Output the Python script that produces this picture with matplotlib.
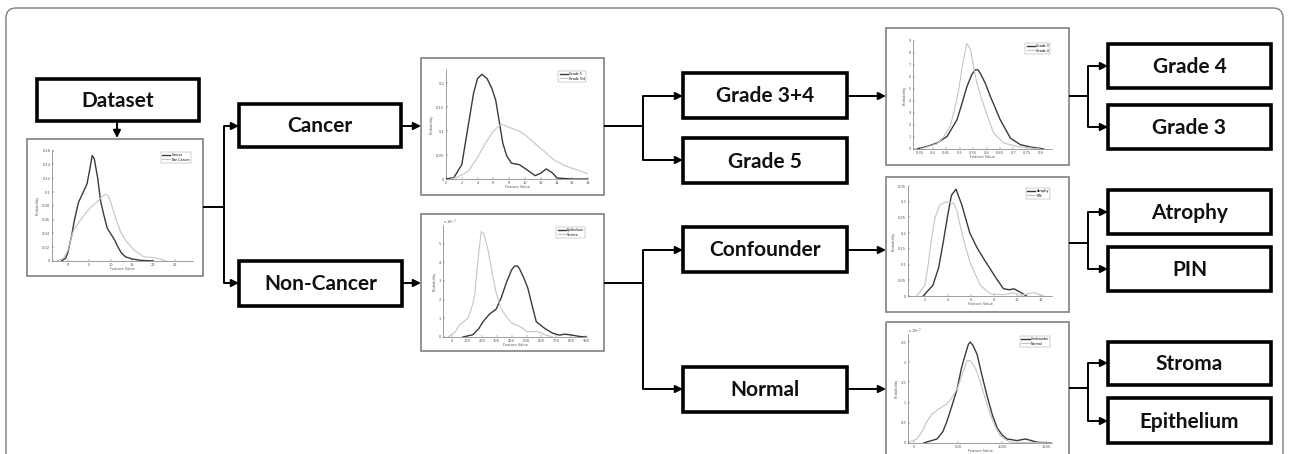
import matplotlib
matplotlib.use("Agg")
import matplotlib.pyplot as plt
from matplotlib.patches import Rectangle, FancyBboxPatch
from matplotlib.ticker import ScalarFormatter

W, H = 1289, 454

# ---------------- data -----------------
# Plot 1: Cancer vs Non-Cancer
p1_cancer_x = [-1.5, -0.5, 0, 1, 1.5, 2.5, 3.4, 4.5, 5.2, 5.7, 6.2, 7.0, 7.7, 8.5, 9.2, 10, 11, 11.6, 12.5, 13.5, 15, 17, 20]
p1_cancer_y = [0, 0.004, 0.012, 0.04, 0.058, 0.085, 0.097, 0.112, 0.135, 0.153, 0.148, 0.12, 0.086, 0.065, 0.048, 0.04, 0.03, 0.022, 0.012, 0.006, 0.003, 0.001, 0]
p1_non_x = [-2.5, -1, 0, 1, 1.4, 2.5, 3.5, 4.5, 5.7, 6.9, 7.8, 8.8, 9.4, 10, 11, 12.3, 13.5, 15.5, 17.8, 20.2, 21.5, 23]
p1_non_y = [0, 0.004, 0.015, 0.038, 0.045, 0.055, 0.064, 0.072, 0.08, 0.086, 0.092, 0.097, 0.095, 0.086, 0.066, 0.043, 0.03, 0.016, 0.006, 0.005, 0.003, 0]

# Plot 2: Grade 5 vs Grade 3/4
p2_g5_x = [0, 1, 2, 2.8, 3.5, 4.0, 4.55, 5.2, 5.8, 6.3, 6.8, 7.2, 7.7, 8.3, 9.3, 10.2, 11.3, 12.0, 12.7, 13.4, 14.1, 15, 16, 18]
p2_g5_y = [0, 0.003, 0.03, 0.11, 0.18, 0.21, 0.219, 0.21, 0.19, 0.165, 0.115, 0.075, 0.048, 0.033, 0.03, 0.02, 0.007, 0.012, 0.021, 0.014, 0.002, 0.001, 0, 0]
p2_g34_x = [0.6, 1.5, 2.8, 4.0, 5.0, 6.0, 7.0, 8.0, 9.3, 10.2, 11, 12.3, 13.7, 15, 15.9, 17, 18]
p2_g34_y = [0, 0.004, 0.016, 0.045, 0.075, 0.1, 0.115, 0.108, 0.1, 0.09, 0.078, 0.06, 0.04, 0.028, 0.023, 0.017, 0.011]

# Plot 3: Epithelium vs Stroma (x1e-3)
p3_epi_x = [74, 140, 180, 208, 252, 297, 330, 364, 400, 420, 440, 453, 480, 509, 540, 565, 620, 676, 721, 754, 790, 855, 900]
p3_epi_y = [0, 0.12, 0.45, 0.82, 1.23, 1.5, 2.1, 2.9, 3.6, 3.8, 3.8, 3.65, 3.2, 2.6, 1.6, 0.82, 0.47, 0.2, 0.1, 0.15, 0.12, 0.03, 0]
p3_str_x = [-27, 20, 51, 107, 130, 152, 175, 196, 215, 241, 270, 297, 330, 364, 400, 431, 453, 480, 498, 530, 565, 600, 620, 676]
p3_str_y = [0, 0.25, 0.65, 1.0, 1.5, 2.2, 4.2, 5.65, 5.5, 4.7, 3.4, 2.35, 1.5, 1.1, 0.75, 0.65, 0.56, 0.45, 0.3, 0.28, 0.3, 0.22, 0.12, 0]

# Plot 4: Grade 3 vs Grade 4
p4_g3_x = [0.341, 0.379, 0.416, 0.453, 0.49, 0.51, 0.527, 0.545, 0.558, 0.568, 0.577, 0.595, 0.614, 0.651, 0.689, 0.726, 0.763, 0.813]
p4_g3_y = [0, 0.22, 0.5, 1.05, 2.44, 3.9, 5.2, 6.2, 6.6, 6.6, 6.3, 5.5, 4.4, 2.44, 0.91, 0.36, 0.17, 0]
p4_g4_x = [0.354, 0.416, 0.44, 0.465, 0.48, 0.496, 0.512, 0.527, 0.54, 0.552, 0.564, 0.58, 0.595, 0.626, 0.664, 0.713, 0.763, 0.8]
p4_g4_y = [0, 0.44, 1.0, 1.9, 3.2, 4.9, 7.2, 8.8, 8.3, 6.8, 5.5, 4.3, 3.3, 1.33, 0.5, 0.22, 0.08, 0]

# Plot 5: Atrophy vs PIN
p5_atr_x = [1.86, 2.7, 3.2, 3.6, 4.0, 4.3, 4.7, 5.2, 5.9, 6.5, 7.07, 8.2, 8.8, 9.3, 9.7, 10.3, 10.8]
p5_atr_y = [0, 0.034, 0.09, 0.172, 0.26, 0.32, 0.34, 0.29, 0.2, 0.155, 0.12, 0.055, 0.023, 0.02, 0.023, 0.011, 0]
p5_pin_x = [1.3, 2.0, 2.3, 2.58, 2.9, 3.3, 3.9, 4.5, 4.8, 5.04, 5.5, 5.9, 6.8, 7.65, 8.8, 9.7, 10.3, 11.4, 12.3]
p5_pin_y = [0, 0.034, 0.1, 0.183, 0.25, 0.29, 0.3, 0.295, 0.27, 0.226, 0.16, 0.108, 0.034, 0.007, 0.004, 0.01, 0.002, 0.011, 0]

# Plot 6: Confounder vs Normal (x1e-3)
p6_con_x = [113, 264, 330, 377, 430, 491, 540, 585, 620, 642, 670, 717, 770, 830, 890, 943, 1000, 1057, 1170, 1264, 1396, 1566]
p6_con_y = [0, 0.1, 0.28, 0.54, 0.9, 1.33, 1.85, 2.2, 2.45, 2.5, 2.42, 2.2, 1.7, 1.17, 0.7, 0.38, 0.2, 0.1, 0.06, 0.1, 0.02, 0]
p6_nor_x = [-75, 38, 100, 151, 210, 264, 320, 377, 430, 491, 550, 604, 642, 700, 755, 810, 868, 925, 981, 1040, 1094, 1566]
p6_nor_y = [0, 0.1, 0.3, 0.54, 0.72, 0.81, 0.89, 0.97, 1.12, 1.33, 1.7, 2.04, 2.04, 1.85, 1.5, 1.1, 0.7, 0.4, 0.18, 0.08, 0.02, 0]

# flowchart labels
box_labels = ["Dataset", "Cancer", "Non-Cancer", "Grade 3+4", "Grade 5", "Confounder",
              "Normal", "Grade 4", "Grade 3", "Atrophy", "PIN", "Stroma", "Epithelium"]

# --------------- figure ----------------
fig = plt.figure(figsize=(W / 100, H / 100), dpi=100)
ax = fig.add_axes([0, 0, 1, 1])
ax.set_xlim(0, W)
ax.set_ylim(H, 0)
ax.axis("off")

# outer rounded frame
ax.add_patch(FancyBboxPatch((6, 8), 1277, 470, boxstyle="round,pad=0,rounding_size=10",
                            fill=False, ec="#7f7f7f", lw=1.0))

box_pos = [(37, 79, 199, 121), (239, 104, 401, 147), (239, 261, 402, 306),
           (683, 73, 847, 118), (683, 138, 847, 183), (683, 227, 847, 272),
           (683, 367, 847, 412), (1108, 44, 1271, 88), (1108, 105, 1271, 149),
           (1108, 190, 1271, 234), (1108, 247, 1271, 291), (1108, 342, 1271, 385),
           (1108, 398, 1271, 443)]

for lab, (x0, y0, x1, y1) in zip(box_labels, box_pos):
    ax.add_patch(Rectangle((x0, y0), x1 - x0, y1 - y0, fill=False, ec="black", lw=2.6, joinstyle="miter"))
    ax.text((x0 + x1) / 2, (y0 + y1) / 2 + 1, lab, ha="center", va="center",
            fontsize=15, fontweight="bold", family="Lato", color="#111111")

LW = 1.4


def line(pts):
    xs, ys = zip(*pts)
    ax.plot(xs, ys, color="black", lw=LW, solid_capstyle="butt")


def arrow(x0, y0, x1, y1):
    ax.annotate("", xy=(x1, y1), xytext=(x0, y0),
                arrowprops=dict(arrowstyle="-|>", color="black", lw=LW,
                                mutation_scale=11, shrinkA=0, shrinkB=0))


# connectors
arrow(117, 121, 117, 138)
line([(203, 207), (224, 207)])
line([(224, 126), (224, 283)])
arrow(224, 126, 239, 126)
arrow(224, 283, 239, 283)
arrow(401, 126, 421, 126)
arrow(402, 283, 421, 283)
line([(604, 126), (643, 126)])
line([(643, 96), (643, 160)])
arrow(643, 96, 683, 96)
arrow(643, 160, 683, 160)
line([(604, 283), (643, 283)])
line([(643, 250), (643, 389)])
arrow(643, 250, 683, 250)
arrow(643, 389, 683, 389)
arrow(847, 96, 886, 96)
arrow(847, 250, 886, 250)
arrow(847, 389, 886, 389)
for yc, ya, yb in [(96, 66, 127), (243, 212, 269), (388, 363, 421)]:
    line([(1069, yc), (1088, yc)])
    line([(1088, ya), (1088, yb)])
    arrow(1088, ya, 1108, ya)
    arrow(1088, yb, 1108, yb)

# plot frames
frames = [(27, 139, 203, 276), (421, 58, 604, 195), (421, 214, 604, 351),
          (886, 28, 1069, 165), (886, 177, 1069, 312), (886, 322, 1069, 470)]
for (x0, y0, x1, y1) in frames:
    ax.add_patch(Rectangle((x0, y0), x1 - x0, y1 - y0, fill=False, ec="#8a8a8a", lw=1.3))

FS = 2.6


def small_plot(px, dark, light, labels, xlim, ylim, xticks, yticks, sci=False, ytl=None, xtl=None):
    x0, y0, x1, y1 = px
    a = fig.add_axes([x0 / W, 1 - y1 / H, (x1 - x0) / W, (y1 - y0) / H])
    a.plot(dark[0], dark[1], color="#3a3a3a", lw=1.0, label=labels[0])
    a.plot(light[0], light[1], color="#c4c4c4", lw=0.8, label=labels[1])
    a.set_xlim(*xlim)
    a.set_ylim(*ylim)
    a.set_xticks(xticks)
    a.set_yticks(yticks)
    if ytl is not None:
        a.set_yticklabels(ytl)
    if xtl is not None:
        a.set_xticklabels(xtl)
    for s in ["top", "right"]:
        a.spines[s].set_visible(False)
    for s in ["left", "bottom"]:
        a.spines[s].set_linewidth(0.4)
        a.spines[s].set_color("#555555")
    a.tick_params(labelsize=FS, length=1.2, width=0.3, pad=1.2, colors="#555555", direction="in")
    a.set_xlabel("Feature Value", fontsize=FS, labelpad=0.5, color="#555555")
    a.set_ylabel("Probability", fontsize=FS, labelpad=1.5, color="#555555")
    if sci:
        a.text(0.0, 1.01, r"x 10$^{-3}$", transform=a.transAxes, fontsize=FS, color="#555555")
    leg = a.legend(loc="upper right", fontsize=FS * 0.9, frameon=True, fancybox=False,
                   handlelength=2.5, borderpad=0.4, labelspacing=0.2, handletextpad=0.4)
    leg.get_frame().set_linewidth(0.3)
    leg.get_frame().set_edgecolor("#777777")
    a.patch.set_alpha(0)
    return a


small_plot((52, 150, 193, 261), (p1_cancer_x, p1_cancer_y), (p1_non_x, p1_non_y),
           ["Cancer", "Non-Cancer"], (-3.7, 29.3), (0, 0.161),
           [0, 5, 10, 15, 20, 25], [0, 0.02, 0.04, 0.06, 0.08, 0.1, 0.12, 0.14, 0.16],
           ytl=["0", "0.02", "0.04", "0.06", "0.08", "0.1", "0.12", "0.14", "0.16"])
small_plot((446, 69, 588, 179), (p2_g5_x, p2_g5_y), (p2_g34_x, p2_g34_y),
           ["Grade 5", "Grade 3/4"], (0, 18), (0, 0.23),
           list(range(0, 19, 2)), [0, 0.05, 0.1, 0.15, 0.2],
           ytl=["0", "0.05", "0.1", "0.15", "0.2"])
small_plot((443, 225, 587, 337), (p3_epi_x, p3_epi_y), (p3_str_x, p3_str_y),
           ["Epithelium", "Stroma"], (-60, 905), (0, 6),
           list(range(0, 901, 100)), [0, 1, 2, 3, 4, 5], sci=True)
small_plot((913, 41, 1052, 149), (p4_g3_x, p4_g3_y), (p4_g4_x, p4_g4_y),
           ["Grade 3", "Grade 4"], (0.326, 0.844), (0, 9),
           [0.35, 0.4, 0.45, 0.5, 0.55, 0.6, 0.65, 0.7, 0.75, 0.8], list(range(0, 10)),
           xtl=["0.35", "0.4", "0.45", "0.5", "0.55", "0.6", "0.65", "0.7", "0.75", "0.8"])
small_plot((908, 186, 1052, 296), (p5_atr_x, p5_atr_y), (p5_pin_x, p5_pin_y),
           ["Atrophy", "PIN"], (0.55, 13.0), (0, 0.35),
           [2, 4, 6, 8, 10, 12], [0, 0.05, 0.1, 0.15, 0.2, 0.25, 0.3, 0.35],
           ytl=["0", "0.05", "0.1", "0.15", "0.2", "0.25", "0.3", "0.35"])
small_plot((908, 334, 1052, 443), (p6_con_x, p6_con_y), (p6_nor_x, p6_nor_y),
           ["Confounder", "Normal"], (-64, 1565), (0, 2.7),
           [0, 500, 1000, 1500], [0, 0.5, 1, 1.5, 2, 2.5], sci=True,
           ytl=["0", "0.5", "1", "1.5", "2", "2.5"])

fig.savefig("out.png", dpi=100)
